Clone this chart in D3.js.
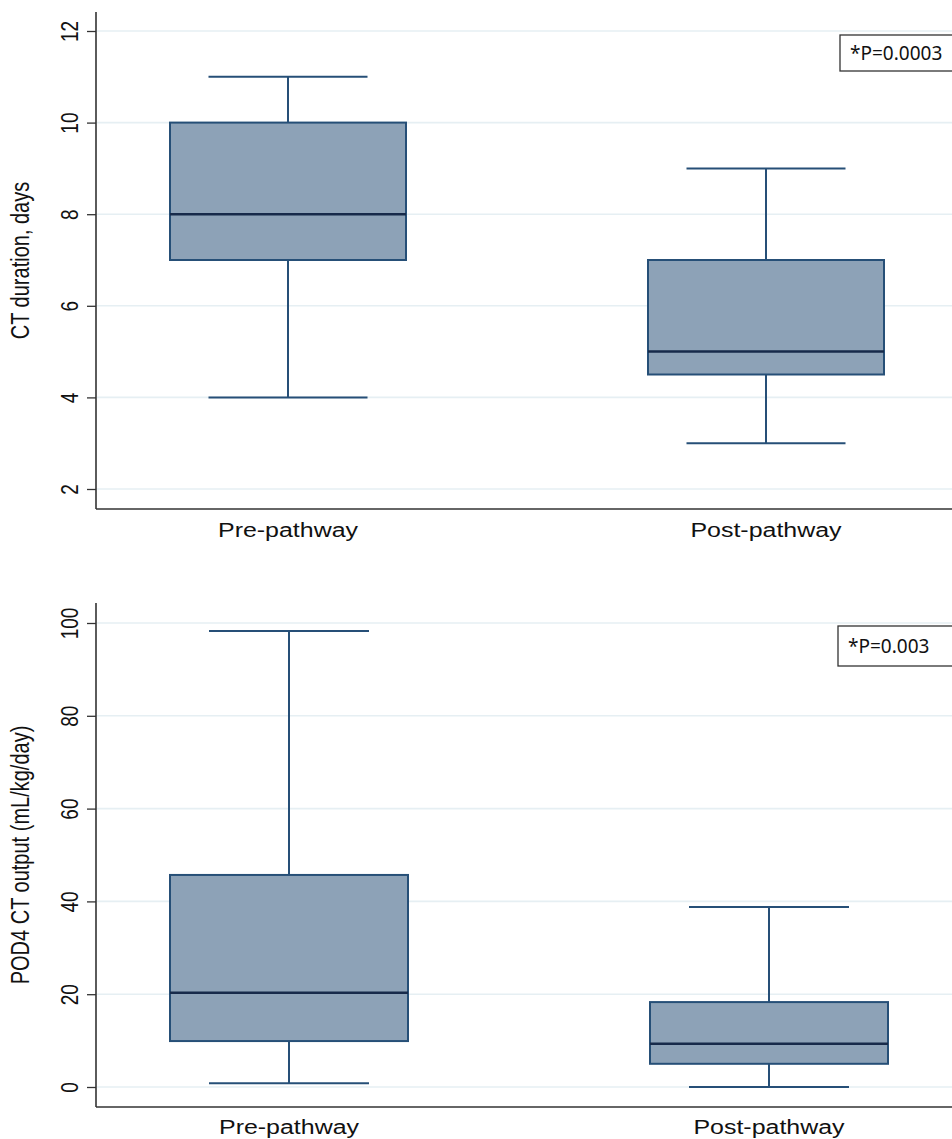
<!DOCTYPE html>
<html>
<head>
<meta charset="utf-8">
<script src="https://cdn.jsdelivr.net/npm/d3@7"></script>
<style>
  body { margin: 0; background: #fff; }
  svg { display: block; }
</style>
</head>
<body>
<div id="chart"></div>
<script>
// groups on the x axis
const categories = ["Pre-pathway", "Post-pathway"]

// CT duration, days: [min, q1, median, q3, max] per group
const ctDuration = [
    [4, 7, 8, 10, 11],
    [3, 4.5, 5, 7, 9]
]

// POD4 CT output (mL/kg/day)
const ctOutput = [
    [0.8, 9.9, 20.3, 45.7, 98.3],
    [0, 5.0, 9.3, 18.3, 38.8]
]

const durationTicks = [2, 4, 6, 8, 10, 12]
const outputTicks = [0, 20, 40, 60, 80, 100]

const pLabels = ["*P=0.0003", "*P=0.003"]
const yTitles = ["CT duration, days", "POD4 CT output (mL/kg/day)"]

const width = 952, height = 1139
const stretch = 1.28   // the picture is wider than it is tall, text included

const boxFill = "#8da2b7"
const boxStroke = "#264f77"
const medianStroke = "#172a4a"
const axisColor = "#333"
const gridColor = "#e6eff3"

const svg = d3.select("#chart").append("svg")
    .attr("width", width)
    .attr("height", height)

// layout of each panel, in page pixels
const panels = [
    { data: ctDuration, ticks: durationTicks, domain: [2, 12], yRange: [489, 31], axisTop: 12, axisBottom: 509,
      xRange: [288, 766], boxW: 236, capW: 159, labelY: 537, pBox: { x: 840, y: 35, h: 36, ty: 60 },
      title: yTitles[0], p: pLabels[0] },
    { data: ctOutput, ticks: outputTicks, domain: [0, 100], yRange: [1087, 623], axisTop: 603, axisBottom: 1107,
      xRange: [289, 769], boxW: 238, capW: 160, labelY: 1134, pBox: { x: 838, y: 626, h: 40, ty: 653 },
      title: yTitles[1], p: pLabels[1] }
]

const axisX = 96

panels.forEach(function (cfg) {
    const y = d3.scaleLinear().domain(cfg.domain).range(cfg.yRange)
    const x = d3.scalePoint().domain(categories).range(cfg.xRange)
    const g = svg.append("g")

    // gridlines
    g.selectAll(".grid")
        .data(cfg.ticks)
        .enter().append("line")
        .attr("x1", axisX + 1).attr("x2", width)
        .attr("y1", d => y(d)).attr("y2", d => y(d))
        .style("stroke", gridColor)
        .style("stroke-width", 1.6)

    // y axis
    const yAxis = g.append("g")
        .attr("transform", translate(axisX, 0))
        .call(d3.axisLeft(y).tickValues(cfg.ticks).tickSize(9).tickSizeOuter(0))
    yAxis.select(".domain").remove()
    yAxis.selectAll(".tick line").style("stroke", axisColor).style("stroke-width", 1.3)
    yAxis.selectAll(".tick text")
        .attr("x", null).attr("dy", null)
        .attr("text-anchor", "middle")
        .attr("transform", "translate(-18,0) scale(" + stretch + ",1) rotate(-90)")
        .style("font-family", "'Liberation Sans', Arial, Helvetica")
        .style("font-size", "19px")
        .style("fill", "#111")

    // axis lines
    g.append("line")
        .attr("x1", axisX).attr("x2", axisX)
        .attr("y1", cfg.axisTop).attr("y2", cfg.axisBottom)
        .style("stroke", axisColor).style("stroke-width", 1.6)
    g.append("line")
        .attr("x1", axisX).attr("x2", width)
        .attr("y1", cfg.axisBottom).attr("y2", cfg.axisBottom)
        .style("stroke", axisColor).style("stroke-width", 1.6)

    // y title
    g.append("text")
        .text(cfg.title)
        .attr("text-anchor", "middle")
        .attr("transform", translate(29, (cfg.axisTop + cfg.axisBottom) / 2) + " scale(" + stretch + ",1) rotate(-90)")
        .style("font-family", "'Liberation Sans', Arial, Helvetica")
        .style("font-size", "20px")
        .style("fill", "#111")

    // x labels
    g.selectAll(".xlabel")
        .data(categories)
        .enter().append("text")
        .text(d => d)
        .attr("text-anchor", "middle")
        .attr("transform", d => translate(x(d), cfg.labelY) + " scale(" + stretch + ",1)")
        .style("font-family", "'Liberation Sans', Arial, Helvetica")
        .style("font-size", "19.5px")
        .style("fill", "#111")

    // boxes
    const boxes = g.selectAll(".box")
        .data(cfg.data)
        .enter().append("g")
        .attr("transform", (d, i) => translate(x(categories[i]), 0))

    // whiskers
    boxes.append("line")
        .attr("x1", 0).attr("x2", 0)
        .attr("y1", d => y(d[3])).attr("y2", d => y(d[4]))
        .style("stroke", boxStroke).style("stroke-width", 2)
    boxes.append("line")
        .attr("x1", 0).attr("x2", 0)
        .attr("y1", d => y(d[0])).attr("y2", d => y(d[1]))
        .style("stroke", boxStroke).style("stroke-width", 2)
    boxes.selectAll(".cap")
        .data(d => [d[0], d[4]])
        .enter().append("line")
        .attr("x1", -cfg.capW / 2).attr("x2", cfg.capW / 2)
        .attr("y1", v => y(v)).attr("y2", v => y(v))
        .style("stroke", boxStroke).style("stroke-width", 2)

    boxes.append("rect")
        .attr("x", -cfg.boxW / 2)
        .attr("width", cfg.boxW)
        .attr("y", d => y(d[3]))
        .attr("height", d => y(d[1]) - y(d[3]))
        .style("fill", boxFill)
        .style("stroke", boxStroke)
        .style("stroke-width", 2)

    boxes.append("line")
        .attr("x1", -cfg.boxW / 2).attr("x2", cfg.boxW / 2)
        .attr("y1", d => y(d[2])).attr("y2", d => y(d[2]))
        .style("stroke", medianStroke).style("stroke-width", 2.5)

    // p-value box, runs off the right edge
    g.append("rect")
        .attr("x", cfg.pBox.x).attr("y", cfg.pBox.y)
        .attr("width", 140).attr("height", cfg.pBox.h)
        .style("fill", "#fff")
        .style("stroke", "#333")
        .style("stroke-width", 1.3)
    g.append("text")
        .text(cfg.p)
        .attr("x", cfg.pBox.x + 10)
        .attr("y", cfg.pBox.ty)
        .style("font-family", "'Noto Sans', 'Open Sans', sans-serif")
        .style("font-size", "19px")
        .style("fill", "#111")
})

function translate(x, y) {
    return "translate(" + x + "," + y + ")"
}
</script>
</body>
</html>
